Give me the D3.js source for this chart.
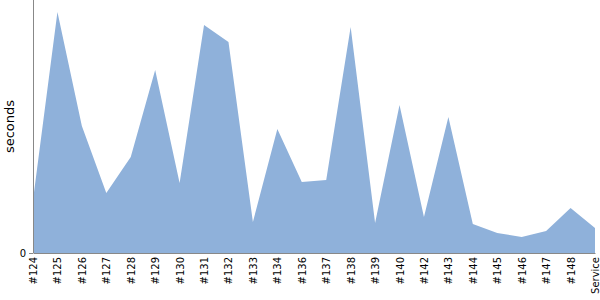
<!DOCTYPE html>
<html lang="en">
<head>
<meta charset="UTF-8">
<title>seconds per build</title>
<script src="https://d3js.org/d3.v7.min.js"></script>
<style>
  body, html { margin: 0; padding: 0; background: #fff; }
  text { font-family: "DejaVu Sans", sans-serif; fill: #000; }
</style>
</head>
<body>
<div id="chart"></div>
<script>
// builds along the x axis
const builds = ["#124", "#125", "#126", "#127", "#128", "#129", "#130", "#131", "#132", "#133",
  "#134", "#136", "#137", "#138", "#139", "#140", "#142", "#143", "#144", "#145",
  "#146", "#147", "#148", "Service"];
// duration per build (seconds)
const durations = [5.3, 24.1, 12.7, 6.0, 9.6, 18.3, 7.0, 22.8, 21.1, 3.1,
  12.4, 7.1, 7.3, 22.6, 3.0, 14.8, 3.6, 13.6, 2.9, 2.0,
  1.6, 2.2, 4.5, 2.5];
const yTicks = [0];

const width = 600, height = 300;
const margin = { top: 0, right: 5, bottom: 47, left: 33 };

const svg = d3.select("#chart").append("svg")
  .attr("width", width)
  .attr("height", height);

const x = d3.scalePoint()
  .domain(builds)
  .range([margin.left, width - margin.right]);

const y = d3.scaleLinear()
  .domain([0, 25.3])
  .range([height - margin.bottom, margin.top]);

const data = builds.map((b, i) => ({ build: b, value: durations[i] }));

const area = d3.area()
  .x(d => x(d.build))
  .y0(y(0))
  .y1(d => y(d.value));

svg.append("path")
  .datum(data)
  .attr("d", area)
  .attr("fill", "#8fb1da");

// y axis
const yAxis = svg.append("g")
  .attr("transform", `translate(${margin.left},0)`)
  .call(d3.axisLeft(y).tickValues(yTicks).tickSize(4).tickPadding(3));
yAxis.select(".domain").remove();
yAxis.selectAll(".tick line").attr("stroke", "#888");
yAxis.selectAll("text").style("font-size", "10px").style("font-family", "DejaVu Sans");

svg.append("line")
  .attr("x1", margin.left + 0.5).attr("x2", margin.left + 0.5)
  .attr("y1", 0).attr("y2", y(0))
  .attr("stroke", "#888");

// x axis
const xAxis = svg.append("g")
  .attr("transform", `translate(0,${y(0)})`)
  .call(d3.axisBottom(x).tickSize(0).tickPadding(0));
xAxis.select(".domain").attr("stroke", "#888");
xAxis.selectAll("text")
  .style("font-size", "10px")
  .style("font-family", "DejaVu Sans")
  .attr("text-anchor", "end")
  .attr("dy", "0.35em")
  .attr("transform", "translate(0,4) rotate(-90)")
  .attr("x", 0).attr("y", 0);

svg.append("text")
  .attr("transform", `translate(14,${y(0) / 2}) rotate(-90)`)
  .attr("text-anchor", "middle")
  .style("font-size", "13px")
  .text("seconds");
</script>
</body>
</html>
